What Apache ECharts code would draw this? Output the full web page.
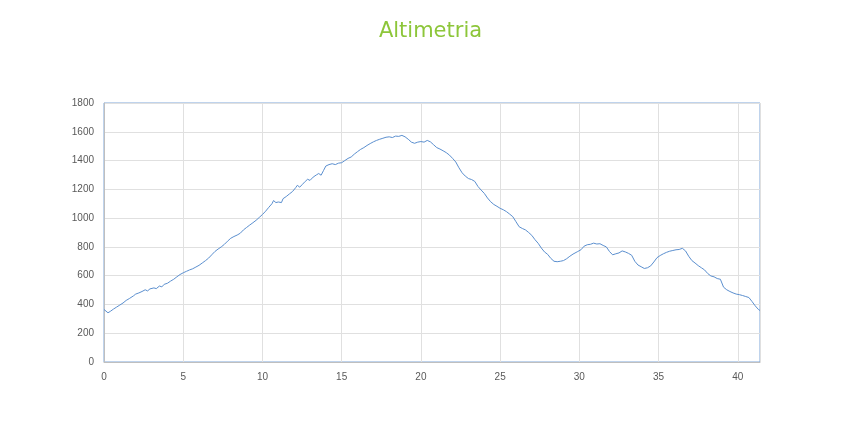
<!DOCTYPE html>
<html><head><meta charset="utf-8">
<script src="https://cdn.jsdelivr.net/npm/echarts@6/dist/echarts.min.js"></script>
<style>html,body{margin:0;padding:0;background:#fff}#c{width:861px;height:430px}</style>
</head><body><div id="c"></div>
<script>
const titleText = 'Altimetria';
const xTicks = [0,5,10,15,20,25,30,35,40];
const yTicks = [0,200,400,600,800,1000,1200,1400,1600,1800];
const profile = [
[0.0,365],[0.1,358],[0.25,342],[0.4,352],[0.6,368],[0.8,382],[1.0,396],[1.2,410],[1.4,428],[1.6,441],
[1.85,459],[2.0,472],[2.2,480],[2.4,490],[2.5,486],[2.6,502],[2.75,494],[2.9,508],[3.0,498],[3.15,515],
[3.3,510],[3.5,528],[3.65,522],[3.8,540],[4.0,547],[4.2,562],[4.4,575],[4.6,592],[4.8,608],[5.0,620],
[5.2,630],[5.4,640],[5.6,648],[5.8,660],[6.0,672],[6.2,688],[6.4,704],[6.6,722],[6.8,745],[7.0,768],
[7.2,785],[7.4,800],[7.6,818],[7.8,840],[8.0,860],[8.2,872],[8.4,882],[8.6,895],[8.8,918],[9.0,935],
[9.2,952],[9.4,968],[9.6,985],[9.8,1005],[10.0,1025],[10.2,1048],[10.4,1075],[10.6,1100],[10.7,1122],[10.85,1108],
[11.0,1112],[11.1,1118],[11.2,1108],[11.3,1135],[11.5,1150],[11.7,1168],[11.9,1185],[12.1,1212],[12.2,1228],[12.35,1215],
[12.5,1232],[12.7,1255],[12.85,1270],[13.0,1262],[13.2,1285],[13.4,1300],[13.55,1310],[13.7,1298],[13.85,1330],[14.0,1362],
[14.2,1372],[14.4,1378],[14.6,1372],[14.8,1382],[15.0,1385],[15.2,1400],[15.4,1415],[15.6,1425],[15.8,1445],[16.0,1462],
[16.2,1478],[16.4,1490],[16.6,1505],[16.8,1518],[17.0,1530],[17.2,1540],[17.4,1548],[17.6,1555],[17.8,1562],[18.0,1565],
[18.2,1560],[18.4,1570],[18.6,1568],[18.8,1575],[19.0,1565],[19.2,1548],[19.4,1528],[19.6,1520],[19.8,1528],[20.0,1532],
[20.2,1528],[20.4,1540],[20.6,1530],[20.8,1510],[21.0,1490],[21.2,1480],[21.4,1468],[21.6,1455],[21.8,1438],[22.0,1415],
[22.2,1390],[22.4,1350],[22.6,1315],[22.8,1292],[23.0,1275],[23.2,1268],[23.4,1255],[23.6,1220],[23.8,1195],[24.0,1172],
[24.2,1140],[24.4,1114],[24.6,1095],[24.8,1082],[25.0,1068],[25.2,1058],[25.4,1045],[25.6,1028],[25.8,1010],[26.0,975],
[26.2,940],[26.4,928],[26.6,918],[26.8,900],[27.0,880],[27.2,850],[27.4,825],[27.6,792],[27.8,765],[28.0,748],
[28.2,720],[28.4,700],[28.6,697],[28.8,700],[29.0,705],[29.2,718],[29.4,735],[29.6,750],[29.7,760],[29.9,768],
[30.1,780],[30.3,805],[30.5,815],[30.7,818],[30.9,826],[31.1,820],[31.3,822],[31.5,810],[31.7,800],[31.9,768],
[32.1,745],[32.3,752],[32.5,758],[32.7,772],[32.9,765],[33.1,755],[33.3,742],[33.5,700],[33.7,674],[33.9,662],
[34.1,650],[34.3,655],[34.5,668],[34.7,695],[34.9,725],[35.1,740],[35.3,752],[35.5,762],[35.7,770],[35.9,775],
[36.1,780],[36.3,782],[36.5,790],[36.7,772],[36.9,735],[37.1,705],[37.3,688],[37.5,670],[37.7,655],[37.9,640],
[38.1,615],[38.3,598],[38.5,592],[38.7,580],[38.9,575],[39.1,520],[39.3,502],[39.5,490],[39.7,480],[39.9,472],
[40.1,468],[40.3,462],[40.5,455],[40.7,448],[40.9,420],[41.1,390],[41.3,365],[41.4,358]
];
const chart = echarts.init(document.getElementById('c'), null, {renderer:'canvas'});
chart.setOption({
  animation:false,
  backgroundColor:'#fff',
  title:{text:titleText,left:'center',top:16,textStyle:{color:'#8dc63a',fontSize:21,fontWeight:'normal',fontFamily:'DejaVu Sans'}},
  grid:{left:104,right:101,top:103,bottom:68,show:true,borderColor:'#7fa7d9',borderWidth:1,backgroundColor:'transparent'},
  xAxis:{type:'value',min:xTicks[0],max:41.4,interval:5,
    axisLine:{show:true,lineStyle:{color:'#bfbfbf'}},axisTick:{show:false},
    axisLabel:{color:'#595959',fontSize:10,fontFamily:'Liberation Sans',margin:10,showMaxLabel:false,formatter:function(v){return String(v);}},
    splitLine:{show:true,lineStyle:{color:'#e0e0e0'}}},
  yAxis:{type:'value',min:yTicks[0],max:yTicks[yTicks.length-1],interval:200,
    axisLine:{show:true,lineStyle:{color:'#bfbfbf'}},axisTick:{show:false},
    axisLabel:{color:'#595959',fontSize:10,fontFamily:'Liberation Sans',margin:10,formatter:function(v){return String(v);}},
    splitLine:{show:true,lineStyle:{color:'#e0e0e0'}}},
  series:[{type:'line',data:profile,showSymbol:false,symbol:'none',lineStyle:{color:'#5b8fcf',width:1}}]
});
</script></body></html>
